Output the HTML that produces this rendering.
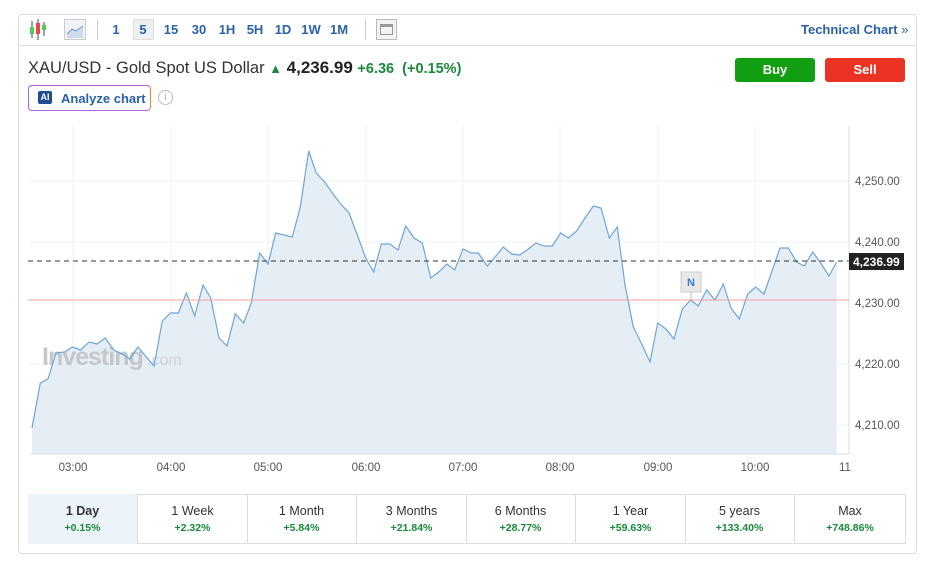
<!DOCTYPE html>
<html><head><meta charset="utf-8"><style>
*{margin:0;padding:0;box-sizing:border-box}
body{width:926px;height:567px;background:#fff;font-family:"Liberation Sans",sans-serif;position:relative;overflow:hidden;color:#333}
.a{position:absolute}
.tf{position:absolute;top:22px;font-size:13px;font-weight:bold;color:#2a62a8;transform:translateX(-50%)}
.tab{position:absolute;top:494px;height:50px;width:110px;border-right:1px solid #ddd;text-align:center}
.tab .t{font-size:12.5px;color:#333;margin-top:10px}
.tab .p{font-size:10.5px;color:#1a8a3a;margin-top:4px;font-weight:bold}
</style></head><body>
<div class="a" style="left:18px;top:14px;width:899px;height:540px;border:1px solid #ddd;border-radius:4px"></div>
<div class="a" style="left:18px;top:45px;width:899px;height:1px;background:#e2e2e2"></div>
<svg class="a" style="left:28px;top:18px" width="22" height="24"><line x1="4" y1="3" x2="4" y2="20" stroke="#444"/><rect x="2" y="9" width="4" height="7" fill="#5c5"/><line x1="10" y1="1" x2="10" y2="22" stroke="#444"/><rect x="8" y="5" width="4" height="11" fill="#e44"/><line x1="16" y1="4" x2="16" y2="18" stroke="#444"/><rect x="14" y="7" width="4" height="5" fill="#5c5"/></svg>
<div class="a" style="left:64px;top:19px;width:22px;height:21px;border:1px solid #ccc;background:#f1f3f6"><svg width="20" height="19"><path d="M2 14 L7 9 L11 11 L18 6 L18 18 L2 18Z" fill="#cfdcec"/><path d="M2 14 L7 9 L11 11 L18 6" stroke="#6a9ad0" fill="none"/></svg></div>
<div class="a" style="left:97px;top:19px;width:1px;height:21px;background:#ccc"></div>
<div class="a" style="left:133px;top:19px;width:21px;height:21px;background:#eef0f2;border:1px solid #ddd"></div>
<div class="tf" style="left:116px">1</div>
<div class="tf" style="left:143px">5</div>
<div class="tf" style="left:171px">15</div>
<div class="tf" style="left:199px">30</div>
<div class="tf" style="left:227px">1H</div>
<div class="tf" style="left:255px">5H</div>
<div class="tf" style="left:283px">1D</div>
<div class="tf" style="left:311px">1W</div>
<div class="tf" style="left:339px">1M</div>
<div class="a" style="left:365px;top:19px;width:1px;height:21px;background:#ccc"></div>
<div class="a" style="left:376px;top:19px;width:21px;height:21px;border:1px solid #bbb;background:#f3f3f3"><div style="margin:4px 3px;height:11px;border:1px solid #999;border-top:3px solid #999"></div></div>
<div class="a" style="left:801px;top:22px;font-size:13px;font-weight:bold;color:#2a62a8">Technical Chart <span style="font-weight:normal">»</span></div>
<div class="a" style="left:28px;top:58px;font-size:16.5px;color:#333">XAU/USD - Gold Spot US Dollar <span style="color:#1a8a3a;font-size:13px">&#9650;</span> <b style="font-size:17px;color:#222">4,236.99</b> <b style="color:#1a8a3a;font-size:14.5px">+6.36 &nbsp;(+0.15%)</b></div>
<div class="a" style="left:735px;top:58px;width:80px;height:24px;background:#0f9f10;color:#fff;font-weight:bold;font-size:13px;text-align:center;line-height:24px;border-radius:3px">Buy</div>
<div class="a" style="left:825px;top:58px;width:80px;height:24px;background:#ea3323;color:#fff;font-weight:bold;font-size:13px;text-align:center;line-height:24px;border-radius:3px">Sell</div>
<div class="a" style="left:28px;top:85px;width:123px;height:26px;border:1px solid #b060e0;border-right-color:#f08030;border-radius:4px"></div>
<div class="a" style="left:38px;top:91px;width:14px;height:13px;background:#1d4f91;color:#fff;font-size:9px;font-weight:bold;text-align:center;line-height:13px;border-radius:2px">AI</div>
<div class="a" style="left:61px;top:91px;font-size:13px;font-weight:bold;color:#2a62a8">Analyze chart</div>
<div class="a" style="left:158px;top:90px;width:15px;height:15px;border:1px solid #bbb;border-radius:50%;font-size:10px;color:#aaa;text-align:center;line-height:13px">i</div>
<svg class="a" style="left:0;top:0" width="926" height="567" font-family="Liberation Sans, sans-serif">
<g stroke="#f0f0f0">
<line x1="73" y1="126" x2="73" y2="454"/><line x1="171" y1="126" x2="171" y2="454"/><line x1="268" y1="126" x2="268" y2="454"/><line x1="366" y1="126" x2="366" y2="454"/><line x1="463" y1="126" x2="463" y2="454"/><line x1="560" y1="126" x2="560" y2="454"/><line x1="658" y1="126" x2="658" y2="454"/><line x1="755" y1="126" x2="755" y2="454"/>
<line x1="30" y1="181" x2="849" y2="181"/><line x1="30" y1="242" x2="849" y2="242"/><line x1="30" y1="303" x2="849" y2="303"/><line x1="30" y1="364" x2="849" y2="364"/><line x1="30" y1="425" x2="849" y2="425"/>
</g>
<polygon fill="#e5edf5" points="32,454 32,428 40.3,383 48,379 56,353 64.7,352 72.3,347 80.7,350 89,342 97,344 105.3,338 113.7,350 122,354 129.7,359 138,347 146.3,357 154,366 162.3,321 170.3,313 178.3,313 186.3,293 194.7,316 203,285 210.7,298 219,338 227,346 235.3,314 243.7,323 251.3,303 259.7,253 268,264 275.7,233 284,235 292.3,237 300.3,207 308.7,151 316.3,173 324.7,182 333,194 340.7,204 349,213 357.3,235 365.7,258 373.7,272 381.3,244 389.7,244 398,250 405.7,226 414,238 422.3,243 430.7,278 438.7,272 447,264 454.7,270 463,249 471.3,253 478.3,253 487.3,266 495,257 503.3,247 511.7,254 520,255 528.3,249 536,243 544,246 552.3,246 560.7,233 568.3,238 576.7,231 585,218 593.3,206 601,208 609.3,238 617.3,227 625,285 633.3,327 641.7,344 650,362 657.7,323 666,329 674,339 682.3,309 690.7,300 698.3,306 706.7,290 715,300 723.3,284 731,308 739.3,319 747.7,294 755.7,287 764,294 771.7,272 780,248 788.3,248 796.7,262 804.3,266 812.7,252 820.7,263 829,276 836.7,262 836.7,454"/>
<text x="42" y="365" font-size="25" font-weight="bold" fill="#c4c8cc" letter-spacing="-1">Investing</text><text x="147" y="365" font-size="16" fill="#d0d3d6">.com</text>
<polyline fill="none" stroke="#6fa6d6" stroke-width="1.2" points="32,428 40.3,383 48,379 56,353 64.7,352 72.3,347 80.7,350 89,342 97,344 105.3,338 113.7,350 122,354 129.7,359 138,347 146.3,357 154,366 162.3,321 170.3,313 178.3,313 186.3,293 194.7,316 203,285 210.7,298 219,338 227,346 235.3,314 243.7,323 251.3,303 259.7,253 268,264 275.7,233 284,235 292.3,237 300.3,207 308.7,151 316.3,173 324.7,182 333,194 340.7,204 349,213 357.3,235 365.7,258 373.7,272 381.3,244 389.7,244 398,250 405.7,226 414,238 422.3,243 430.7,278 438.7,272 447,264 454.7,270 463,249 471.3,253 478.3,253 487.3,266 495,257 503.3,247 511.7,254 520,255 528.3,249 536,243 544,246 552.3,246 560.7,233 568.3,238 576.7,231 585,218 593.3,206 601,208 609.3,238 617.3,227 625,285 633.3,327 641.7,344 650,362 657.7,323 666,329 674,339 682.3,309 690.7,300 698.3,306 706.7,290 715,300 723.3,284 731,308 739.3,319 747.7,294 755.7,287 764,294 771.7,272 780,248 788.3,248 796.7,262 804.3,266 812.7,252 820.7,263 829,276 836.7,262"/>
<line x1="28" y1="300" x2="849" y2="300" stroke="#f4a0a0"/>
<line x1="28" y1="261" x2="849" y2="261" stroke="#333" stroke-dasharray="5,4"/>
<line x1="30" y1="454" x2="849" y2="454" stroke="#ddd"/>
<line x1="849" y1="126" x2="849" y2="454" stroke="#ddd"/>
<g fill="#555" font-size="11.5">
<text x="855" y="185">4,250.00</text><text x="855" y="246">4,240.00</text><text x="855" y="307">4,230.00</text><text x="855" y="368">4,220.00</text><text x="855" y="429">4,210.00</text>
<text x="73" y="471" text-anchor="middle">03:00</text><text x="171" y="471" text-anchor="middle">04:00</text><text x="268" y="471" text-anchor="middle">05:00</text><text x="366" y="471" text-anchor="middle">06:00</text><text x="463" y="471" text-anchor="middle">07:00</text><text x="560" y="471" text-anchor="middle">08:00</text><text x="658" y="471" text-anchor="middle">09:00</text><text x="755" y="471" text-anchor="middle">10:00</text><text x="839" y="471">11</text>
</g>
<rect x="849" y="253" width="55" height="17" fill="#222"/>
<text x="853" y="266" fill="#fff" font-size="12" font-weight="bold">4,236.99</text>
<line x1="691" y1="292" x2="691" y2="300" stroke="#bbb"/>
<rect x="681" y="272" width="20" height="20" fill="#e8e8e8" stroke="#ccc"/>
<text x="691" y="286" fill="#3a7fc8" font-size="11" font-weight="bold" text-anchor="middle">N</text>
</svg>
<div class="a" style="left:28px;top:494px;width:878px;height:50px;border:1px solid #ddd"></div>
<div class="tab" style="left:28px;background:#edf3fa;width:110px"><div class="t" style="font-weight:bold">1 Day</div><div class="p">+0.15%</div></div>
<div class="tab" style="left:138px"><div class="t">1 Week</div><div class="p">+2.32%</div></div>
<div class="tab" style="left:247px"><div class="t">1 Month</div><div class="p">+5.84%</div></div>
<div class="tab" style="left:357px"><div class="t">3 Months</div><div class="p">+21.84%</div></div>
<div class="tab" style="left:466px"><div class="t">6 Months</div><div class="p">+28.77%</div></div>
<div class="tab" style="left:576px"><div class="t">1 Year</div><div class="p">+59.63%</div></div>
<div class="tab" style="left:685px"><div class="t">5 years</div><div class="p">+133.40%</div></div>
<div class="tab" style="left:795px;border-right:none"><div class="t">Max</div><div class="p">+748.86%</div></div>
</body></html>
